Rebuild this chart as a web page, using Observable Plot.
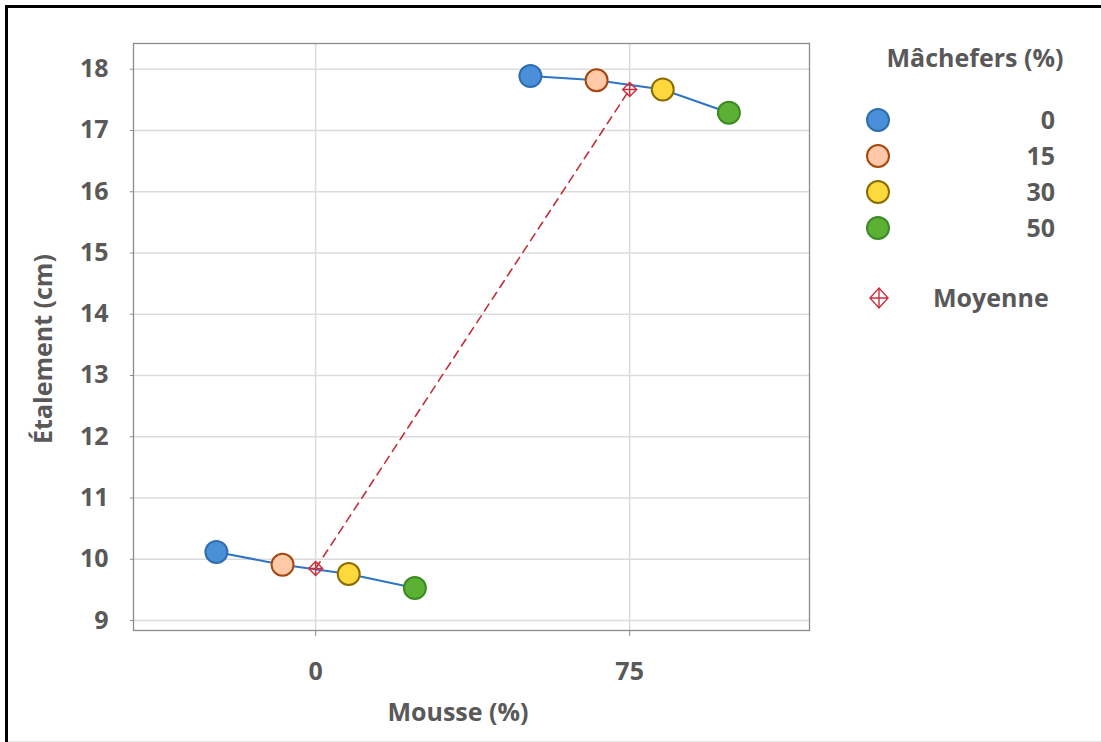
<!DOCTYPE html>
<html>
<head>
<meta charset="utf-8">
<script src="https://cdn.jsdelivr.net/npm/d3@7"></script>
<script src="https://cdn.jsdelivr.net/npm/@observablehq/plot@0.6"></script>
<style>
  html, body { margin: 0; padding: 0; background: #fff; }
  #wrap { position: relative; width: 1101px; height: 742px; overflow: hidden; background: #fff;
          font-family: "Open Sans", sans-serif; font-weight: bold; color: #595959; }
  #wrap svg.plotsvg { position: absolute; left: 0; top: 0; }
  .abs { position: absolute; white-space: nowrap; font-size: 25px; line-height: 30px; }
</style>
</head>
<body>
<div id="wrap"></div>
<script>
// ---- Data ----
const mousse = [0, 75];                         // Mousse (%) categories
const machefers = [0, 15, 30, 50];              // Mâchefers (%) series
const etalementMousse0 = [10.12, 9.91, 9.76, 9.53];
const etalementMousse75 = [17.89, 17.82, 17.67, 17.29];
const moyenne = [9.85, 17.67];                  // mean per Mousse level
const yTicks = [9, 10, 11, 12, 13, 14, 15, 16, 17, 18];
const fillColors = ["#4a8fd8", "#ffc8a6", "#ffd83e", "#5ab133"];
const strokeColors = ["#2f6eae", "#a4470f", "#8a6c00", "#3d8a25"];

// ---- Build tables ----
const series = [etalementMousse0, etalementMousse75];
const rows = [];
mousse.forEach((m, i) => machefers.forEach((c, j) => rows.push({mousse: m, machefers: c, slot: j, etalement: series[i][j]})));
const means = mousse.map((m, i) => ({mousse: m, etalement: moyenne[i]}));

const dodge = 15.8; // horizontal spacing between series within a group (x units)
const xPos = d => d.mousse + (d.slot - 1.5) * dodge;

// custom "diamond with cross" symbol
const diamondPlus = {
  draw(ctx, size) {
    const r = Math.sqrt(size / Math.PI);
    ctx.moveTo(0, -r); ctx.lineTo(r, 0); ctx.lineTo(0, r); ctx.lineTo(-r, 0); ctx.closePath();
    ctx.moveTo(0, -r); ctx.lineTo(0, r);
    ctx.moveTo(-r, 0); ctx.lineTo(r, 0);
  }
};

const W = 1101, H = 742;
const chart = Plot.plot({
  width: W, height: H,
  marginLeft: 133, marginRight: W - 809, marginTop: 43, marginBottom: H - 630,
  x: {domain: [-43.5, 117.95], axis: null},
  y: {domain: [8.837, 18.42], axis: null},
  color: {type: "identity"},
  style: {fontFamily: "'Open Sans', sans-serif", fontWeight: "bold", fontSize: "25px", color: "#595959", background: "transparent", overflow: "visible"},
  marks: [
    Plot.gridY(yTicks, {stroke: "#dcdcdc", strokeOpacity: 1, strokeWidth: 1.5}),
    Plot.gridX(mousse, {stroke: "#dcdcdc", strokeOpacity: 1, strokeWidth: 1.5}),
    Plot.frame({stroke: "#8c8c8c", strokeWidth: 1.3}),
    Plot.axisY(yTicks, {tickSize: 3, tickPadding: 22, stroke: "#8c8c8c", fill: "#595959", label: null, tickFormat: d => String(d)}),
    Plot.axisX(mousse, {tickSize: 6, tickPadding: 26, stroke: "#8c8c8c", fill: "#595959", label: null, tickFormat: d => String(d)}),
    Plot.line(rows, {x: xPos, y: "etalement", z: "mousse", stroke: "#2e75c6", strokeWidth: 2}),
    Plot.line(means, {x: "mousse", y: "etalement", stroke: "#c0303a", strokeWidth: 1.6, strokeDasharray: "8,6"}),
    Plot.dot(rows, {x: xPos, y: "etalement", r: 11, fill: d => fillColors[d.slot], stroke: d => strokeColors[d.slot], strokeWidth: 2}),
    Plot.dot(means, {x: "mousse", y: "etalement", r: 7, symbol: diamondPlus, fill: "none", stroke: "#d0303e", strokeWidth: 1.5})
  ]
});
chart.classList.add("plotsvg");

const wrap = document.getElementById("wrap");
wrap.appendChild(chart);

// outer border (top + left) and faint bottom line
const border = document.createElement("div");
border.style.cssText = "position:absolute;left:5px;top:5px;width:1100px;height:740px;border-left:3px solid #000;border-top:3px solid #000;box-sizing:border-box;";
wrap.appendChild(border);
const bottomLine = document.createElement("div");
bottomLine.style.cssText = "position:absolute;left:8px;top:741px;width:1093px;height:1px;background:#e6e6e6;";
wrap.appendChild(bottomLine);

function addText(txt, css) {
  const d = document.createElement("div");
  d.className = "abs";
  d.textContent = txt;
  d.style.cssText += css;
  wrap.appendChild(d);
  return d;
}

// axis titles
addText("Mousse (%)", "left:308px;top:696px;width:300px;text-align:center;");
addText("Étalement (cm)", "left:-108px;top:334px;width:300px;text-align:center;transform:rotate(-90deg);transform-origin:150px 15px;");

// legend
addText("Mâchefers (%)", "left:875px;top:42px;width:200px;text-align:center;");
const legendY = [120, 156, 192, 228];
const ns = "http://www.w3.org/2000/svg";
const lg = document.createElementNS(ns, "svg");
lg.setAttribute("width", W); lg.setAttribute("height", H);
lg.style.cssText = "position:absolute;left:0;top:0;overflow:visible;";
machefers.forEach((c, j) => {
  const ci = document.createElementNS(ns, "circle");
  ci.setAttribute("cx", 878); ci.setAttribute("cy", legendY[j]); ci.setAttribute("r", 11);
  ci.setAttribute("fill", fillColors[j]); ci.setAttribute("stroke", strokeColors[j]); ci.setAttribute("stroke-width", 2);
  lg.appendChild(ci);
  addText(String(c), `left:955px;top:${legendY[j] - 16}px;width:100px;text-align:right;`);
});
const mk = document.createElementNS(ns, "path");
const mx = 879, my = 298, mr = 10;
mk.setAttribute("d", `M${mx},${my - mr}L${mx + mr - 1},${my}L${mx},${my + mr}L${mx - mr + 1},${my}Z M${mx},${my - mr}V${my + mr} M${mx - mr + 1},${my}H${mx + mr - 1}`);
mk.setAttribute("fill", "none"); mk.setAttribute("stroke", "#d0303e"); mk.setAttribute("stroke-width", 1.4);
lg.appendChild(mk);
wrap.appendChild(lg);
addText("Moyenne", "left:933px;top:282px;");
</script>
</body>
</html>
